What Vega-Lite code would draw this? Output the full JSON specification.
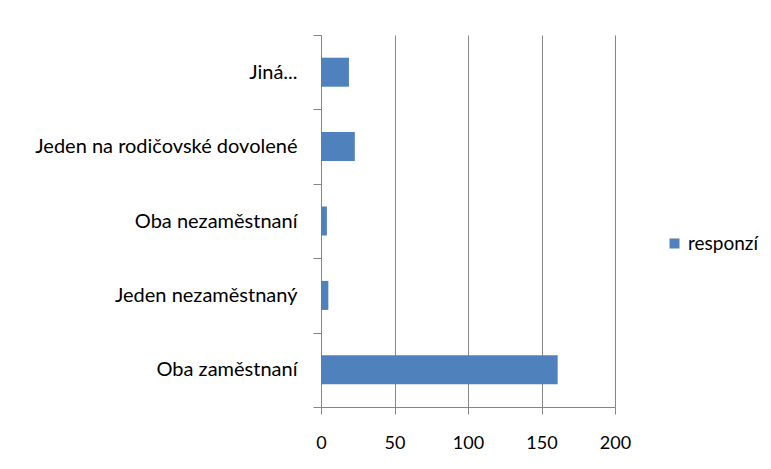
{
  "$schema": "https://vega.github.io/schema/vega-lite/v6.json",
  "width": 294,
  "height": 372,
  "autosize": {"type": "none"},
  "padding": {"left": 321, "top": 35, "right": 156, "bottom": 62},
  "background": "white",
  "config": {
    "view": {"stroke": null},
    "font": "Lato",
    "axis": {"labelFont": "Lato", "labelColor": "#000000", "labelFontSize": 17, "domainColor": "#868686", "tickColor": "#868686", "gridColor": "#868686"}
  },
  "data": {
    "values": [
      {"kategorie": "Jiná...", "serie": "responzí", "hodnota": 19},
      {"kategorie": "Jeden na rodičovské dovolené", "serie": "responzí", "hodnota": 23},
      {"kategorie": "Oba nezaměstnaní", "serie": "responzí", "hodnota": 4},
      {"kategorie": "Jeden nezaměstnaný", "serie": "responzí", "hodnota": 5},
      {"kategorie": "Oba zaměstnaní", "serie": "responzí", "hodnota": 161}
    ]
  },
  "mark": {"type": "bar", "height": {"band": 0.39}},
  "encoding": {
    "y": {
      "field": "kategorie",
      "type": "nominal",
      "sort": null,
      "scale": {"paddingInner": 0, "paddingOuter": 0},
      "axis": {"title": null, "tickBand": "extent", "tickSize": 8, "labelPadding": 16, "grid": false, "labelLimit": 320, "labelFontSize": 20}
    },
    "x": {
      "field": "hodnota",
      "type": "quantitative",
      "scale": {"domain": [0, 200], "nice": false},
      "axis": {"title": null, "values": [0, 50, 100, 150, 200], "tickSize": 7, "labelPadding": 20, "grid": true, "labelFlush": false, "labelFontSize": 18}
    },
    "color": {
      "field": "serie",
      "type": "nominal",
      "scale": {"range": ["#4F81BD"]},
      "legend": {"title": null, "orient": "none", "legendX": 344, "legendY": 199, "symbolType": "square", "symbolSize": 100, "labelFontSize": 19, "labelFont": "Lato", "labelColor": "#000000", "symbolStrokeWidth": 0}
    }
  }
}
